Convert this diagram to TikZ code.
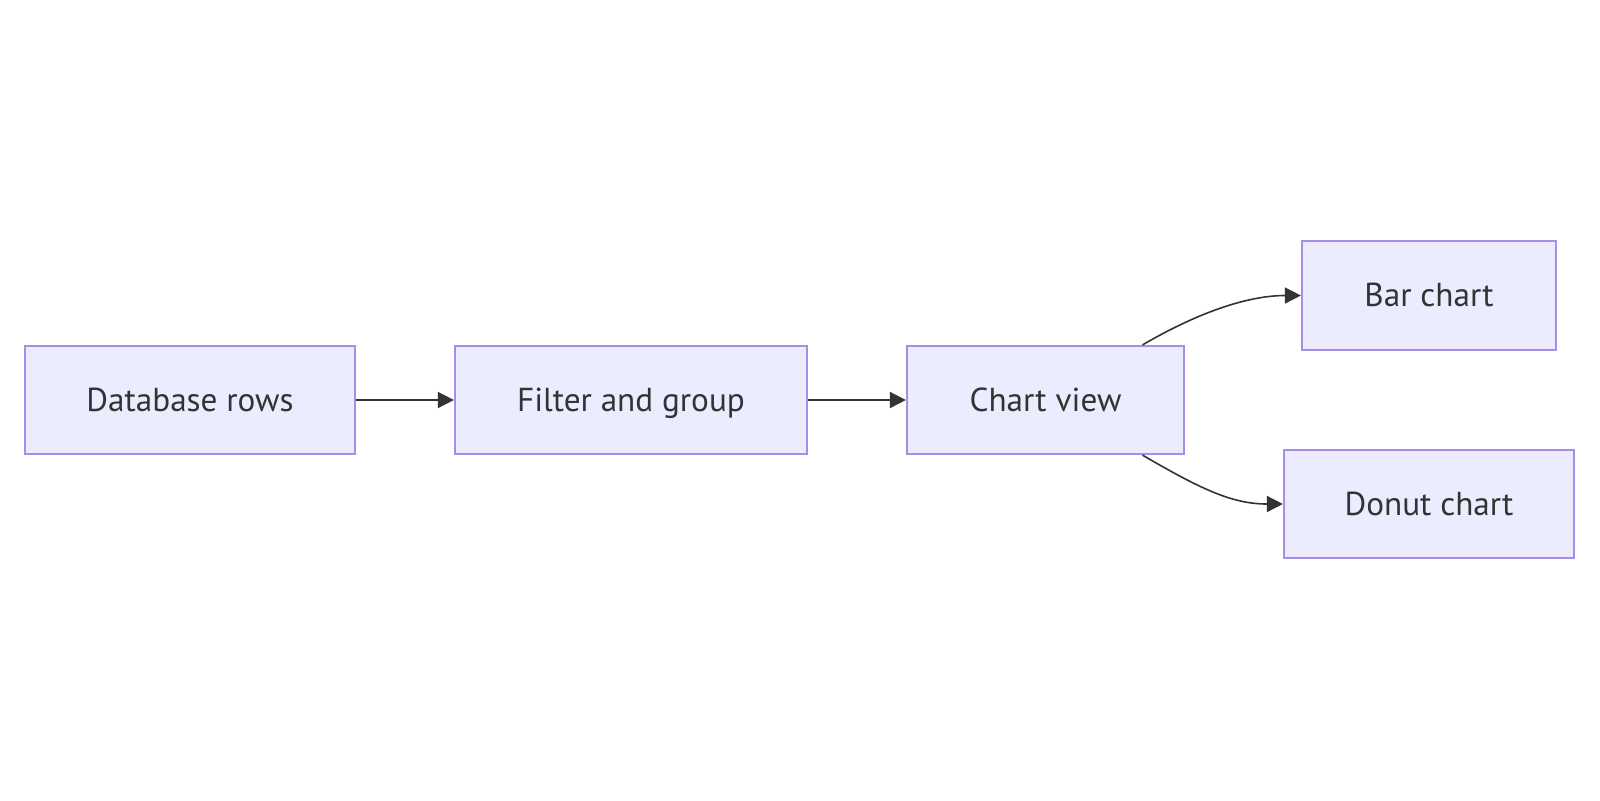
\documentclass[tikz,border=0pt]{standalone}
\usepackage{fontspec}
\setmainfont{PT Sans}
\usetikzlibrary{arrows.meta}
\definecolor{nodefill}{HTML}{ECECFF}
\definecolor{nodeborder}{HTML}{A98BE8}
\definecolor{edgecol}{HTML}{333333}
\definecolor{textcol}{HTML}{333333}
\tikzset{
  box/.style={draw=nodeborder, fill=nodefill, line width=1.1pt, rectangle, inner sep=0pt,
    font=\fontsize{16.6pt}{19pt}\selectfont, text=textcol, text height=13pt, text depth=2pt},
  conn/.style={draw=edgecol, line width=0.8pt, -{Triangle[length=8pt,width=8pt]}}
}
\begin{document}
\begin{tikzpicture}[x=0.5pt,y=-0.5pt]
\useasboundingbox (0,0) rectangle (1600,800);
\node[box, minimum width=165pt, minimum height=54pt] (db) at (190,400) {Database rows};
\node[box, minimum width=176pt, minimum height=54pt] (fg) at (631,400) {Filter and group};
\node[box, minimum width=138.5pt, minimum height=54pt] (cv) at (1045.5,400) {Chart view};
\node[box, minimum width=127pt, minimum height=54.5pt] (bc) at (1429,295.5) {Bar chart};
\node[box, minimum width=145pt, minimum height=54pt] (dc) at (1429,504) {Donut chart};
\draw[conn] (db.east) -- (fg.west);
\draw[conn] (fg.east) -- (cv.west);
\coordinate (cvt) at ([xshift=48.5pt]cv.north);
\coordinate (cvb) at ([xshift=48.5pt]cv.south);
\draw[conn] (cvt) .. controls +(60,-35) and +(-50,0) .. (bc.west);
\draw[conn] (cvb) .. controls +(60,35) and +(-50,0) .. (dc.west);
\end{tikzpicture}
\end{document}
